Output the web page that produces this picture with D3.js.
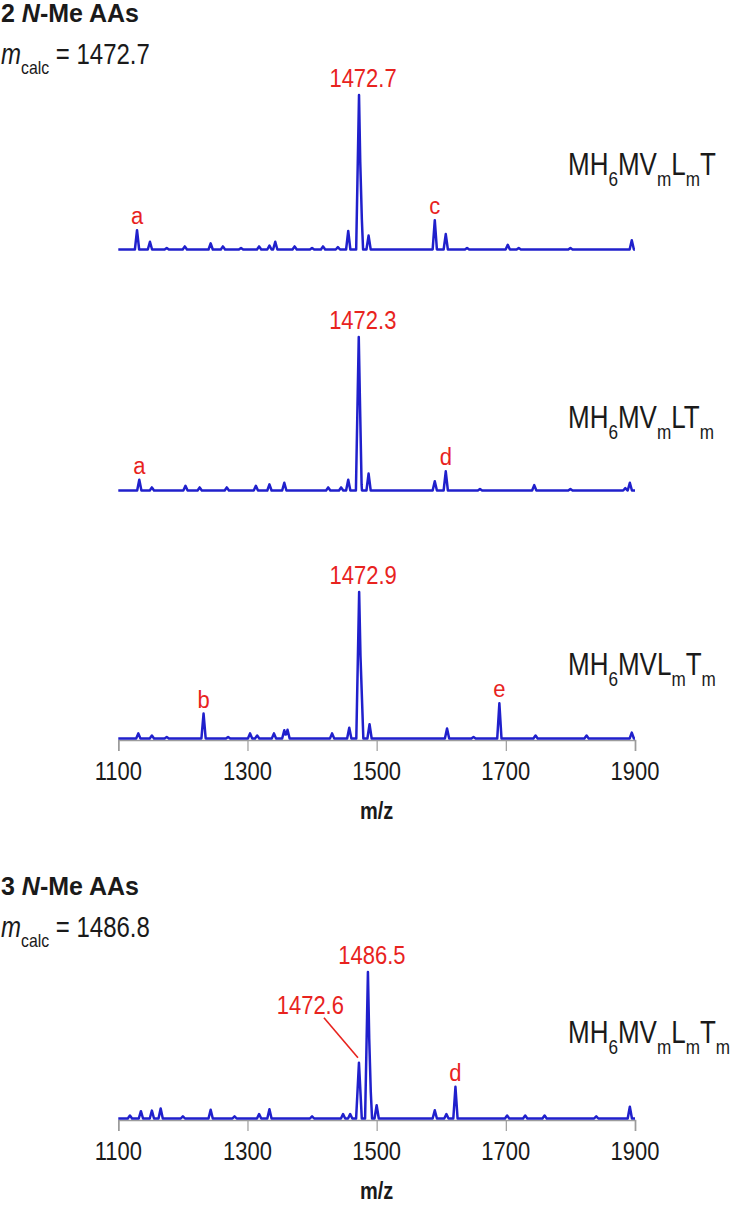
<!DOCTYPE html>
<html>
<head>
<meta charset="utf-8">
<script src="https://cdn.jsdelivr.net/npm/d3@7"></script>
<style>
  body { margin: 0; background: #fff; }
  text { font-family: "Liberation Sans", Arial, sans-serif; }
</style>
</head>
<body>
<div class="chart"></div>
<script>
// m/z axis
const ticks = [1100, 1300, 1500, 1700, 1900];

// peaks: [m/z, relative intensity (main peak = 100)]
const peaks1 = [[1129, 12.5], [1149, 5], [1175, 1], [1203, 2], [1243, 4], [1262, 2], [1290, 1], [1318, 2],
    [1334, 2.5], [1343, 5], [1373, 2], [1400, 1], [1417, 2], [1440, 1.5], [1456, 12], [1472.7, 100],
    [1474.6, 45], [1487.5, 9], [1590, 19], [1607, 10], [1640, 1], [1703, 3], [1720, 1], [1800, 1], [1895, 6]];
const peaks2 = [[1132.5, 7], [1152, 2], [1204, 3], [1226, 2], [1268, 2], [1313, 3], [1334, 4], [1357, 5],
    [1425, 2], [1445, 2], [1456, 7], [1472.3, 100], [1474, 20], [1487.5, 11], [1590, 6], [1607, 12.5],
    [1660, 1], [1744, 3.5], [1800, 1], [1885, 1.5], [1892, 5]];
const peaks3 = [[1131, 3.5], [1152, 2], [1175, 1], [1232, 17], [1270, 1], [1304, 3.5], [1315, 2], [1341, 3.5],
    [1357, 5.6], [1362, 6], [1431, 3.5], [1457.6, 7.4], [1472.9, 100], [1475, 56], [1489, 9.7], [1609, 6.8],
    [1650, 1], [1690, 24], [1746, 2], [1825, 2], [1895, 4]];
const peaks4 = [[1118, 2], [1135, 5], [1152, 5.4], [1165.6, 6.8], [1200, 1.5], [1243, 6], [1280, 1.5],
    [1318, 3], [1334, 6.3], [1400, 1.5], [1448, 3], [1459, 3], [1472.6, 38], [1486.5, 100], [1488.5, 40],
    [1500, 9], [1590, 5.6], [1608, 3], [1622, 21.6], [1702, 2], [1730, 2], [1760, 2], [1840, 1.5], [1892, 8]];

// lettered side peaks
const tags1 = [["a", 1129], ["c", 1590]];
const tags2 = [["a", 1132.5], ["d", 1607]];
const tags3 = [["b", 1232], ["e", 1690]];
const tags4 = [["d", 1622]];

// labelled main peaks
const mainLabels = [["1472.7", 1472.7], ["1472.3", 1472.3], ["1472.9", 1472.9], ["1486.5", 1486.5]];

// sample names, [text, subscript?]
const names = [
    [["MH"], ["6", 1], ["MV"], ["m", 1], ["L"], ["m", 1], ["T"]],
    [["MH"], ["6", 1], ["MV"], ["m", 1], ["LT"], ["m", 1]],
    [["MH"], ["6", 1], ["MVL"], ["m", 1], ["T"], ["m", 1]],
    [["MH"], ["6", 1], ["MV"], ["m", 1], ["L"], ["m", 1], ["T"], ["m", 1]]
];

const groupTitles = [["2", "1472.7"], ["3", "1486.8"]];

const blue = "#2020cc", red = "#e8231e", grey = "#9c9c9c", ink = "#1a1a1a";

const svg = d3.select(".chart").append("svg")
    .attr("width", 732)
    .attr("height", 1207);

const x = d3.scaleLinear().domain([1100, 1900]).range([118.3, 635]);

// layout of each panel
const panels = [
    {peaks: peaks1, tags: tags1, base: 251, top: 95, nameY: 175, axis: false},
    {peaks: peaks2, tags: tags2, base: 492, top: 337, nameY: 428, axis: false},
    {peaks: peaks3, tags: tags3, base: 740, top: 592, nameY: 675, axis: true},
    {peaks: peaks4, tags: tags4, base: 1120, top: 972, nameY: 1043, axis: true}
];

// text with a slight vertical stretch like the source
function txt(g, px, py, size, opts = {}) {
    return g.append("text")
        .attr("transform", `translate(${px},${py}) scale(1,${opts.sy || 1.18})`)
        .attr("font-size", size)
        .attr("font-weight", opts.weight || "normal")
        .attr("fill", opts.fill || ink)
        .attr("text-anchor", opts.anchor || "start");
}

function addParts(t, parts, size) {
    let shifted = false;
    parts.forEach(p => {
        const sub = p[1] === 1;
        const ts = t.append("tspan").text(p[0]);
        if (sub && !shifted) { ts.attr("dy", size * 0.36).attr("font-size", size * 0.66); shifted = true; }
        else if (sub) { ts.attr("font-size", size * 0.66); }
        else if (shifted) { ts.attr("dy", -size * 0.36); shifted = false; }
        if (p[2]) ts.attr("font-style", "italic");
    });
}

// group headings
[[22, 0], [895, 1]].forEach(([y0, i]) => {
    const [n, calc] = groupTitles[i];
    const t = txt(svg, 1, y0, 25, {weight: "bold", sy: 1.02});
    t.append("tspan").text(n + " ");
    t.append("tspan").attr("font-style", "italic").text("N");
    t.append("tspan").text("-Me AAs");

    const m = txt(svg, 1, y0 + 42, 24, {sy: 1.2});
    addParts(m, [["m", 0, 1], ["calc", 1], [" = " + calc]], 24);
});

function buildTrace(peaks) {
    const hw = d => d[1] >= 30 ? 4.4 : 3.3;
    const xs = [1100, 1900];
    peaks.forEach(d => xs.push(d[0] - hw(d), d[0], d[0] + hw(d)));
    xs.sort((a, b) => a - b);
    return xs.map(v => {
        let h = 0;
        peaks.forEach(d => {
            const k = 1 - Math.abs(v - d[0]) / hw(d);
            if (k > 0) h = Math.max(h, d[1] * k);
        });
        return [v, h];
    });
}

panels.forEach((p, i) => {
    const g = svg.append("g");
    const y = d3.scaleLinear().domain([0, 100]).range([p.base - 1.5, p.top]);

    if (p.axis) {
        const ax = g.append("g")
            .attr("transform", `translate(0,${p.base})`)
            .call(d3.axisBottom(x).tickValues(ticks).tickSize(11).tickFormat(""));
        ax.select(".domain").attr("stroke", grey).attr("stroke-width", 1.6);
        ax.selectAll(".tick line").attr("stroke", grey).attr("stroke-width", 1.2);
        ticks.forEach(v => {
            txt(g, x(v), p.base + 40, 22, {anchor: "middle", sy: 1.2}).text(v);
        });
        txt(g, x(1500), p.base + 79, 20, {anchor: "middle", weight: "bold", sy: 1.15}).text("m/z");
    }

    const line = d3.line()
        .x(d => x(d[0]))
        .y(d => y(d[1]));

    g.append("path")
        .datum(buildTrace(p.peaks))
        .attr("d", line)
        .attr("fill", "none")
        .attr("stroke", blue)
        .attr("stroke-width", 2.5)
        .attr("stroke-linejoin", "round");

    // lettered peaks
    p.tags.forEach(([tag, mz]) => {
        const h = p.peaks.find(d => d[0] === mz)[1];
        txt(g, x(mz), y(h) - 6, 22, {anchor: "middle", fill: red, sy: 1.1}).text(tag);
    });

    // main peak label
    const [lab, mz] = mainLabels[i];
    txt(g, x(mz) + 4, p.top - 8, 22, {anchor: "middle", fill: red, sy: 1.15}).text(lab);

    // sample name
    addParts(txt(g, 568, p.nameY, 26, {sy: 1.2}), names[i], 26);
});

// minor 1472.6 peak in the last panel, with leader line
const last = panels[3];
const yl = d3.scaleLinear().domain([0, 100]).range([last.base - 1.5, last.top]);
const minor = peaks4.find(d => d[0] === 1472.6);
svg.append("line")
    .attr("x1", x(minor[0]) - 35).attr("y1", yl(minor[1]) - 45)
    .attr("x2", x(minor[0]) - 1).attr("y2", yl(minor[1]) - 5)
    .attr("stroke", red).attr("stroke-width", 1.6);
txt(svg, x(minor[0]) - 15, yl(minor[1]) - 49, 22, {anchor: "end", fill: red, sy: 1.15}).text("1472.6");
</script>
</body>
</html>
